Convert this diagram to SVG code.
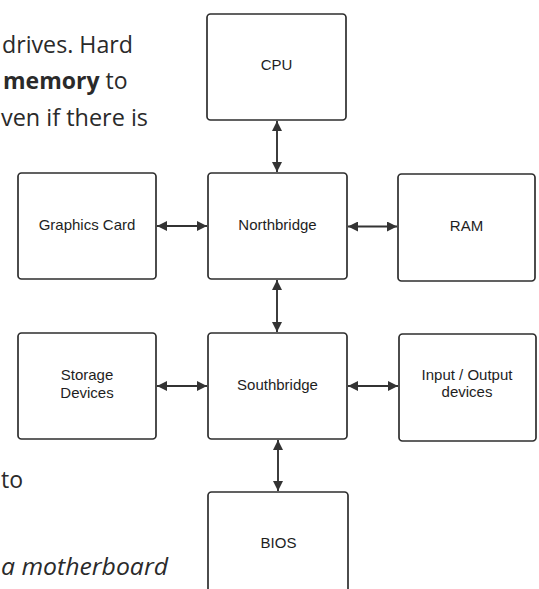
<svg xmlns="http://www.w3.org/2000/svg" width="539" height="589" viewBox="0 0 539 589">
<style>
.box{fill:#fff;stroke:#2e2e2e;stroke-width:1.7}
.lbl{font-family:"Liberation Sans",Arial,sans-serif;font-size:15px;fill:#1e1e1e;text-anchor:middle}
.body{font-family:"Open Sans","Noto Sans",sans-serif;font-size:23px;fill:#2a2a2a}
.conn{stroke:#333;stroke-width:1.9;fill:none;marker-start:url(#ah);marker-end:url(#ah)}
</style>
<defs>
<marker id="ah" viewBox="0 0 10 10" refX="10" refY="5" markerWidth="11" markerHeight="10" markerUnits="userSpaceOnUse" orient="auto-start-reverse">
<path d="M0,0 L10,5 L0,10 Z" fill="#333"/>
</marker>
</defs>
<rect width="539" height="589" fill="#fff"/>
<g id="page-text">
<text class="body" x="2" y="53" textLength="131" lengthAdjust="spacingAndGlyphs">drives. Hard</text>
<text class="body" x="3" y="89"><tspan font-weight="bold">memory</tspan> to</text>
<text class="body" x="1" y="126" textLength="147" lengthAdjust="spacingAndGlyphs">ven if there is</text>
<text class="body" x="1" y="488">to</text>
<text class="body" x="1" y="575" font-style="italic" textLength="167" lengthAdjust="spacingAndGlyphs">a motherboard</text>
</g>
<g id="connectors">
<line class="conn" x1="277" y1="121" x2="277" y2="172"/>
<line class="conn" x1="277" y1="280" x2="277" y2="332"/>
<line class="conn" x1="278" y1="440" x2="278" y2="491"/>
<line class="conn" x1="157" y1="226" x2="207" y2="226"/>
<line class="conn" x1="348" y1="226.5" x2="397" y2="226.5"/>
<line class="conn" x1="157" y1="386" x2="207" y2="386"/>
<line class="conn" x1="348" y1="386" x2="398" y2="386"/>
</g>
<g id="cpu">
<rect class="box" x="207" y="14" width="139" height="106" rx="3.5"/>
<text class="lbl" x="276.5" y="70">CPU</text>
</g>
<g id="northbridge">
<rect class="box" x="208" y="173" width="139" height="106" rx="3.5"/>
<text class="lbl" x="277.5" y="230">Northbridge</text>
</g>
<g id="graphics-card">
<rect class="box" x="18" y="173" width="138" height="106" rx="3.5"/>
<text class="lbl" x="87" y="230">Graphics Card</text>
</g>
<g id="ram">
<rect class="box" x="398" y="174" width="137" height="107" rx="3.5"/>
<text class="lbl" x="466.5" y="231">RAM</text>
</g>
<g id="storage-devices">
<rect class="box" x="18" y="333" width="138" height="106" rx="3.5"/>
<text class="lbl" x="87" y="380">Storage</text>
<text class="lbl" x="87" y="397.5">Devices</text>
</g>
<g id="southbridge">
<rect class="box" x="208" y="333" width="139" height="106" rx="3.5"/>
<text class="lbl" x="277.5" y="390">Southbridge</text>
</g>
<g id="io-devices">
<rect class="box" x="399" y="334" width="137" height="107" rx="3.5"/>
<text class="lbl" x="467" y="380">Input / Output</text>
<text class="lbl" x="467" y="396.5">devices</text>
</g>
<g id="bios">
<rect class="box" x="208" y="492" width="140" height="130" rx="3.5"/>
<text class="lbl" x="278.5" y="548">BIOS</text>
</g>
</svg>
